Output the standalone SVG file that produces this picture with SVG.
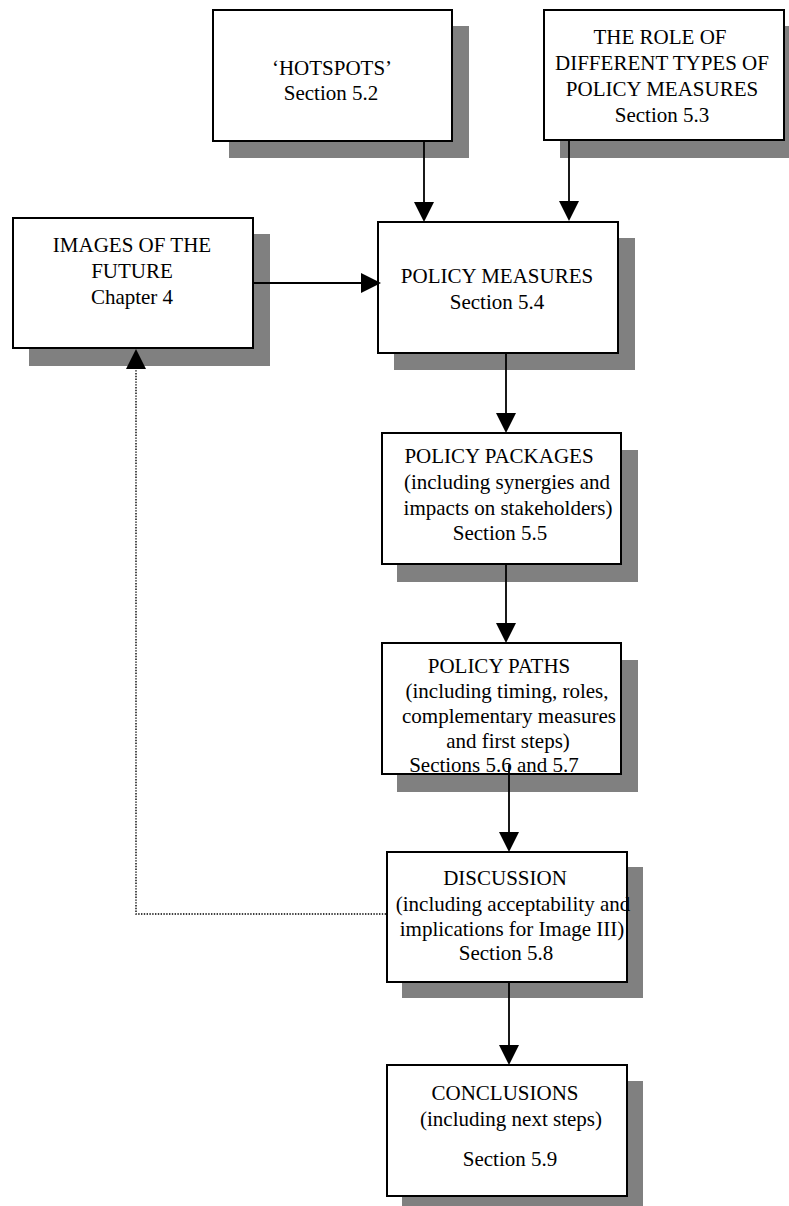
<svg xmlns="http://www.w3.org/2000/svg" width="789" height="1206" viewBox="0 0 789 1206">
  <style>
    .shadow { fill: #808080; }
    .box { fill: #ffffff; stroke: #000000; stroke-width: 2; }
    .label { font-family: "Liberation Serif", "Times New Roman", serif; font-size: 21px; fill: #000000; text-anchor: middle; }
    .link { fill: none; stroke: #000000; stroke-width: 1.8; }
    .dotted { fill: none; stroke: #000000; stroke-width: 1.4; stroke-dasharray: 1.4 1.4; }
  </style>
  <defs>
    <marker id="head" markerUnits="userSpaceOnUse" markerWidth="20" markerHeight="20" refX="0" refY="10" orient="auto" viewBox="0 0 20 20">
      <path d="M0,0 L20,10 L0,20 Z" fill="#000000"/>
    </marker>
  </defs>

  <rect width="789" height="1206" fill="#ffffff"/>

  <g id="hotspots">
    <rect class="shadow" x="229" y="26" width="240" height="132"/>
    <rect class="box" x="213" y="10" width="239" height="131"/>
    <text class="label" x="332" y="75">‘HOTSPOTS’</text>
    <text class="label" x="331" y="100">Section 5.2</text>
  </g>

  <g id="role-of-measures">
    <rect class="shadow" x="560" y="26" width="240" height="132"/>
    <rect class="box" x="544" y="10" width="240" height="130"/>
    <text class="label" x="660" y="44">THE ROLE OF</text>
    <text class="label" x="662" y="70">DIFFERENT TYPES OF</text>
    <text class="label" x="662" y="96">POLICY MEASURES</text>
    <text class="label" x="662" y="122">Section 5.3</text>
  </g>

  <g id="images-of-future">
    <rect class="shadow" x="29" y="234" width="241" height="132"/>
    <rect class="box" x="13" y="218" width="240" height="130"/>
    <text class="label" x="132" y="252">IMAGES OF THE</text>
    <text class="label" x="132" y="278">FUTURE</text>
    <text class="label" x="132" y="304">Chapter 4</text>
  </g>

  <g id="policy-measures">
    <rect class="shadow" x="394" y="238" width="241" height="132"/>
    <rect class="box" x="378" y="222" width="240" height="131"/>
    <text class="label" x="497" y="283">POLICY MEASURES</text>
    <text class="label" x="497" y="309">Section 5.4</text>
  </g>

  <g id="policy-packages">
    <rect class="shadow" x="397" y="450" width="241" height="132"/>
    <rect class="box" x="382" y="433" width="239" height="131"/>
    <text class="label" x="499" y="463">POLICY PACKAGES</text>
    <text class="label" x="507" y="489">(including synergies and</text>
    <text class="label" x="508" y="515">impacts on stakeholders)</text>
    <text class="label" x="500" y="540">Section 5.5</text>
  </g>

  <g id="policy-paths">
    <rect class="shadow" x="397" y="660" width="241" height="132"/>
    <rect class="box" x="382" y="643" width="239" height="131"/>
    <text class="label" x="499" y="673">POLICY PATHS</text>
    <text class="label" x="507" y="698">(including timing, roles,</text>
    <text class="label" x="509" y="723">complementary measures</text>
    <text class="label" x="508" y="748">and first steps)</text>
    <text class="label" x="494" y="772">Sections 5.6 and 5.7</text>
  </g>

  <g id="discussion">
    <rect class="shadow" x="402" y="867" width="241" height="131"/>
    <rect class="box" x="387" y="852" width="240" height="130"/>
    <text class="label" x="505" y="885">DISCUSSION</text>
    <text class="label" x="513" y="911">(including acceptability and</text>
    <text class="label" x="512" y="936">implications for Image III)</text>
    <text class="label" x="506" y="960">Section 5.8</text>
  </g>

  <g id="conclusions">
    <rect class="shadow" x="402" y="1081" width="241" height="132"/>
    <rect class="box" x="387" y="1065" width="240" height="131"/>
    <text class="label" x="505" y="1100">CONCLUSIONS</text>
    <text class="label" x="511" y="1126">(including next steps)</text>
    <text class="label" x="510" y="1166">Section 5.9</text>
  </g>

  <g id="connectors">
    <line class="link" x1="424" y1="141" x2="424" y2="202" marker-end="url(#head)"/>
    <line class="link" x1="569" y1="140" x2="569" y2="201" marker-end="url(#head)"/>
    <line class="link" x1="253" y1="283" x2="361" y2="283" marker-end="url(#head)"/>
    <line class="link" x1="506" y1="353" x2="506" y2="413" marker-end="url(#head)"/>
    <line class="link" x1="506" y1="564" x2="506" y2="623" marker-end="url(#head)"/>
    <line class="link" x1="509" y1="765" x2="509" y2="832" marker-end="url(#head)"/>
    <line class="link" x1="509" y1="982" x2="509" y2="1045" marker-end="url(#head)"/>
    <polyline class="dotted" points="386,914 136,914 136,369" marker-end="url(#head)"/>
  </g>
</svg>
